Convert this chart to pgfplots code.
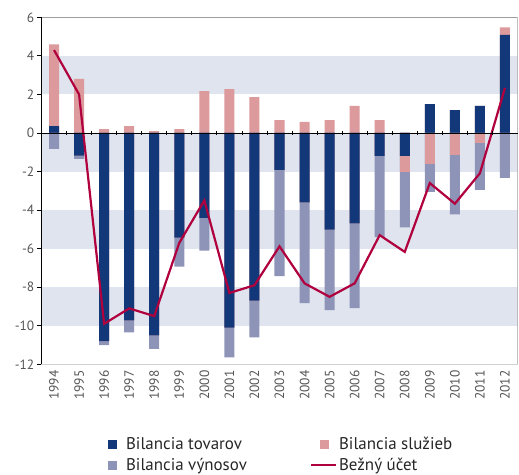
\documentclass[border=0pt]{standalone}
\usepackage{pgfplots}
\usepackage{pgfplotstable}
\pgfplotsset{compat=1.18}
\usepackage{fontspec}
\setmainfont{PT Sans}
\definecolor{ctov}{HTML}{12387A}
\definecolor{csluz}{HTML}{DC9A9C}
\definecolor{cvyn}{HTML}{8E93B8}
\definecolor{cline}{HTML}{B0003E}
\definecolor{cband}{HTML}{DFE4EE}
\definecolor{ctick}{HTML}{555555}
% edges of the bar segments (cumulative), and current account
\pgfplotstableread{
x  pp    dp    bot     pn     dn     cur
0  4.60  0.35  -0.83   0      0      4.30
1  2.80  0     -1.35  -1.17  -1.17   2.00
2  0.20  0     -11.00 -10.80 -10.80 -9.90
3  0.36  0     -10.35 -9.72  -9.72  -9.10
4  0.10  0     -11.20 -10.50 -10.50 -9.50
5  0.20  0     -6.93  -5.43  -5.43  -5.70
6  2.17  0     -6.10  -4.40  -4.40  -3.50
7  2.28  0     -11.64 -10.10 -10.10 -8.30
8  1.86  0     -10.60 -8.70  -8.70  -7.90
9  0.67  0     -7.43  -1.91  -1.91  -5.88
10 0.57  0     -8.83  -3.60  -3.60  -7.80
11 0.67  0     -9.19  -5.02  -5.02  -8.50
12 1.40  0     -9.09  -4.69  -4.69  -7.80
13 0.67  0     -5.40  -1.19  -1.19  -5.30
14 0     0     -4.90  -2.02  -1.19  -6.17
15 1.50  1.50  -3.05  -1.60  0     -2.60
16 1.19  1.19  -4.22  -1.14  0     -3.67
17 1.40  1.40  -2.95  -0.52  0     -2.09
18 5.48  5.09  -2.33  0      0      2.34
}\data
\begin{document}
\begin{tikzpicture}
\begin{axis}[
  scale only axis, width=476bp, height=347bp,
  xmin=-0.5, xmax=18.5, ymin=-12, ymax=6,
  axis x line*=bottom, axis y line*=left,
  axis on top,
  x axis line style={draw=black!18, line width=1.5bp},
  y axis line style={draw=black, line width=0.8bp},
  xtick={0,...,18},
  xticklabels={1994,1995,1996,1997,1998,1999,2000,2001,2002,2003,2004,2005,2006,2007,2008,2009,2010,2011,2012},
  xtick style={draw=none},
  ytick={-12,-10,...,6},
  yticklabel={\pgfmathparse{int(round(\tick))}\pgfmathresult},
  ytick style={black, line width=0.8bp},
  tick align=outside,
  major tick length=4bp,
  xticklabel style={rotate=90, anchor=east, font=\fontsize{13.5}{15}\selectfont, text=ctick, inner sep=2bp},
  yticklabel style={font=\fontsize{13.5}{15}\selectfont, text=ctick, inner sep=3bp},
  xtick pos=bottom,
  legend columns=2,
  legend cell align=left,
  legend style={at={(57bp,-71bp)}, anchor=north west, draw=none, fill=none, inner sep=0pt,
    font=\fontsize{17}{19}\selectfont, text=black!85,
    /tikz/every even column/.append style={column sep=61bp},
    row sep=3bp},
]
\addplot[fill=cband, draw=none, forget plot] coordinates {(-0.5,2) (18.5,2) (18.5,4) (-0.5,4)} -- cycle;
\addplot[fill=cband, draw=none, forget plot] coordinates {(-0.5,-2) (18.5,-2) (18.5,0) (-0.5,0)} -- cycle;
\addplot[fill=cband, draw=none, forget plot] coordinates {(-0.5,-6) (18.5,-6) (18.5,-4) (-0.5,-4)} -- cycle;
\addplot[fill=cband, draw=none, forget plot] coordinates {(-0.5,-10) (18.5,-10) (18.5,-8) (-0.5,-8)} -- cycle;
\addplot[ybar, bar width=0.4, bar shift=0pt, fill=csluz, draw=none, forget plot] table[x=x, y=pp] {\data};
\addplot[ybar, bar width=0.4, bar shift=0pt, fill=ctov, draw=none, forget plot] table[x=x, y=dp] {\data};
\addplot[ybar, bar width=0.4, bar shift=0pt, fill=cvyn, draw=none, forget plot] table[x=x, y=bot] {\data};
\addplot[ybar, bar width=0.4, bar shift=0pt, fill=csluz, draw=none, forget plot] table[x=x, y=pn] {\data};
\addplot[ybar, bar width=0.4, bar shift=0pt, fill=ctov, draw=none, forget plot] table[x=x, y=dn] {\data};
\addplot[cline, line width=2.2bp, sharp plot, mark=none, forget plot] table[x=x, y=cur] {\data};
\draw[black!38, line width=0.8bp] (rel axis cs:0,1) -- (rel axis cs:1,1) -- (rel axis cs:1,0);
\addlegendimage{legend image code/.code={\fill[ctov] (9bp,-4bp) rectangle (17bp,4bp); \path (0bp,0bp) (25bp,0bp);}}
\addlegendentry{Bilancia tovarov}
\addlegendimage{legend image code/.code={\fill[csluz] (9bp,-4bp) rectangle (17bp,4bp); \path (0bp,0bp) (25bp,0bp);}}
\addlegendentry{Bilancia služieb}
\addlegendimage{legend image code/.code={\fill[cvyn] (9bp,-4bp) rectangle (17bp,4bp); \path (0bp,0bp) (25bp,0bp);}}
\addlegendentry{Bilancia výnosov}
\addlegendimage{legend image code/.code={\draw[cline, line width=2.2bp] (0bp,0bp) -- (25bp,0bp);}}
\addlegendentry{Bežný účet}
\end{axis}
\begin{axis}[
  scale only axis, width=476bp, height=347bp,
  xmin=-0.5, xmax=18.5, ymin=-12, ymax=6,
  axis x line*=middle, axis y line=none,
  x axis line style={-, black, line width=0.8bp},
  xtick={0.5,1.5,...,17.5}, xticklabel={\empty},
  ytick=\empty,
  xtick style={black, line width=0.8bp, yshift=-2bp},
  major tick length=4bp,
]
\end{axis}
\pgfresetboundingbox
\path[use as bounding box] (-41.5bp,-110.7bp) rectangle (477.5bp,364.3bp);
\end{tikzpicture}
\end{document}
